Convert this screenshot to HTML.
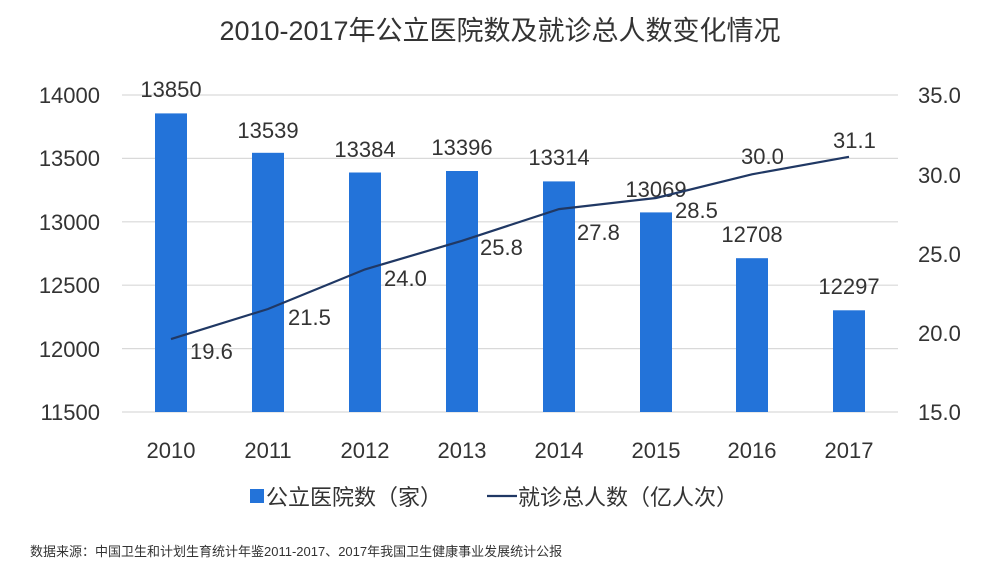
<!DOCTYPE html>
<html><head><meta charset="utf-8"><style>
body{margin:0;background:#fff}
svg text{font-family:"Liberation Sans","Noto Sans CJK SC",sans-serif;fill:#333}
</style></head><body>
<svg width="1000" height="574" viewBox="0 0 1000 574" xmlns="http://www.w3.org/2000/svg">
<text x="500" y="40" font-size="27" text-anchor="middle">2010-2017年公立医院数及就诊总人数变化情况</text>
<g stroke="#d9d9d9" stroke-width="1.2">
<line x1="122" x2="898" y1="95" y2="95"/><line x1="122" x2="898" y1="158.4" y2="158.4"/>
<line x1="122" x2="898" y1="221.8" y2="221.8"/><line x1="122" x2="898" y1="285.2" y2="285.2"/>
<line x1="122" x2="898" y1="348.6" y2="348.6"/><line x1="122" x2="898" y1="412" y2="412"/>
</g>
<g font-size="22" text-anchor="end">
<text x="100" y="103">14000</text><text x="100" y="166">13500</text><text x="100" y="230">13000</text>
<text x="100" y="293">12500</text><text x="100" y="357">12000</text><text x="100" y="420">11500</text>
</g>
<g font-size="22" text-anchor="start">
<text x="918" y="103">35.0</text><text x="918" y="183">30.0</text><text x="918" y="262">25.0</text>
<text x="918" y="341">20.0</text><text x="918" y="420">15.0</text>
</g>
<g fill="#2373d9">
<rect x="155" y="113.4" width="32" height="298.6"/>
<rect x="252" y="152.8" width="32" height="259.2"/>
<rect x="349" y="172.5" width="32" height="239.5"/>
<rect x="446" y="171" width="32" height="241"/>
<rect x="543" y="181.4" width="32" height="230.6"/>
<rect x="640" y="212.4" width="32" height="199.6"/>
<rect x="736" y="258.2" width="32" height="153.8"/>
<rect x="833" y="310.3" width="32" height="101.7"/>
</g>
<g font-size="22" text-anchor="middle">
<text x="171" y="97">13850</text><text x="268" y="138">13539</text><text x="365" y="157">13384</text>
<text x="462" y="155">13396</text><text x="559" y="165">13314</text><text x="656" y="197">13069</text>
<text x="752" y="242">12708</text><text x="849" y="294">12297</text>
</g>
<polyline fill="none" stroke="#203864" stroke-width="2.2" points="171,339.1 268,309 365,269.4 462,240.8 559,209.1 656,198 752,174.3 849,156.8"/>
<g font-size="22">
<text x="190" y="359">19.6</text><text x="288" y="325">21.5</text><text x="384" y="286">24.0</text>
<text x="480" y="255">25.8</text><text x="577" y="240">27.8</text><text x="675" y="218">28.5</text>
<text x="741" y="164">30.0</text><text x="833" y="148">31.1</text>
</g>
<g font-size="22" text-anchor="middle">
<text x="171" y="458">2010</text><text x="268" y="458">2011</text><text x="365" y="458">2012</text>
<text x="462" y="458">2013</text><text x="559" y="458">2014</text><text x="656" y="458">2015</text>
<text x="752" y="458">2016</text><text x="849" y="458">2017</text>
</g>
<rect x="250" y="489" width="14" height="14" fill="#2373d9"/>
<text x="266" y="505" font-size="22">公立医院数（家）</text>
<line x1="487" x2="517" y1="496" y2="496" stroke="#203864" stroke-width="2.2"/>
<text x="518" y="505" font-size="22">就诊总人数（亿人次）</text>
<text x="30" y="556" font-size="13">数据来源：中国卫生和计划生育统计年鉴2011-2017、2017年我国卫生健康事业发展统计公报</text>
</svg>
</body></html>
